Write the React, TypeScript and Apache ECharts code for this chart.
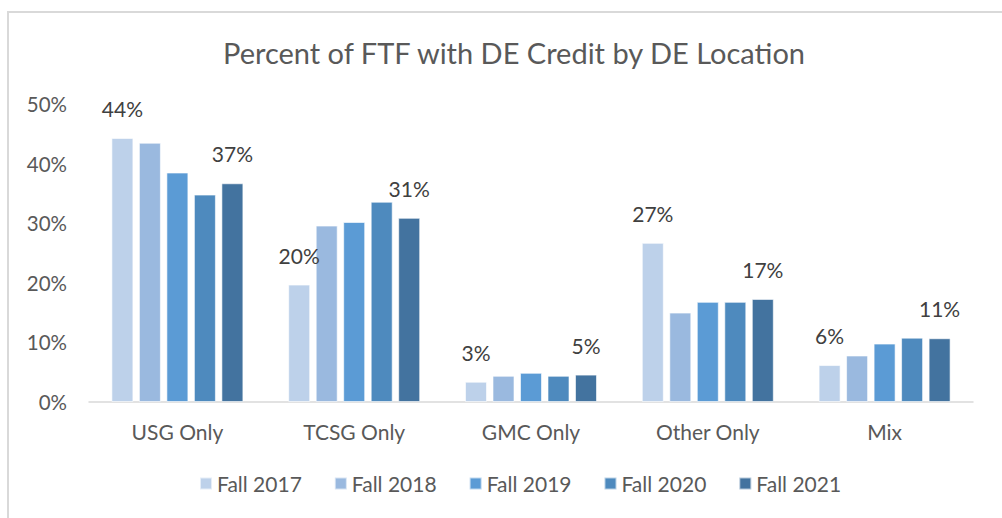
import React, { useEffect, useRef } from "react";
import * as echarts from "echarts";

const categories = ["USG Only", "TCSG Only", "GMC Only", "Other Only", "Mix"];
const seriesNames = ["Fall 2017", "Fall 2018", "Fall 2019", "Fall 2020", "Fall 2021"];
const fall2017 = [44.3, 19.7, 3.4, 26.7, 6.2];
const fall2018 = [43.5, 29.6, 4.4, 15.0, 7.8];
const fall2019 = [38.5, 30.2, 4.9, 16.8, 9.8];
const fall2020 = [34.8, 33.6, 4.4, 16.8, 10.8];
const fall2021 = [36.7, 30.9, 4.6, 17.3, 10.7];
const seriesData = [fall2017, fall2018, fall2019, fall2020, fall2021];
const colors = ["#BDD1EA", "#9AB9DF", "#5B9BD5", "#4E8ABE", "#43739F"];
const labelled = [true, false, false, false, true];

const FONT = "Lato, 'Open Sans', sans-serif";

export default function App() {
  const ref = useRef<HTMLDivElement>(null);
  useEffect(() => {
    if (!ref.current) return;
    const chart = echarts.init(ref.current, null, { renderer: "svg" });
    chart.setOption({
      animation: false,
      backgroundColor: "#ffffff",
      title: {
        text: "Percent of FTF with DE Credit by DE Location",
        left: 218,
        top: 33,
        textStyle: { fontFamily: FONT, fontSize: 29, fontWeight: "normal", color: "#595959" },
      },
      legend: {
        bottom: 19,
        left: 194,
        itemWidth: 12,
        itemHeight: 12,
        itemGap: 32,
        icon: "rect",
        textStyle: { fontFamily: FONT, fontSize: 21, color: "#595959" },
        data: seriesNames,
      },
      graphic: [
        {
          type: "rect",
          shape: { x: 8, y: 12, width: 1100, height: 600 },
          style: { fill: "none", stroke: "#D9D9D9", lineWidth: 2 },
          silent: true,
        },
      ],
      grid: { left: 89, right: 29, top: 104, bottom: 116 },
      xAxis: {
        type: "category",
        data: categories,
        axisLine: { lineStyle: { color: "#D9D9D9", width: 1.5 } },
        axisTick: { show: false },
        axisLabel: { fontFamily: FONT, fontSize: 21, color: "#595959", margin: 19 },
      },
      yAxis: {
        type: "value",
        min: 0,
        max: 50,
        interval: 10,
        splitLine: { show: false },
        axisLine: { show: false },
        axisTick: { show: false },
        axisLabel: { fontFamily: FONT, fontSize: 20.5, color: "#595959", margin: 22, formatter: "{value}%" },
      },
      series: seriesNames.map((name, i) => ({
        name,
        type: "bar",
        data: seriesData[i],
        barWidth: 22,
        barGap: "25%",
        itemStyle: { color: colors[i], borderColor: "rgba(255,255,255,0.6)", borderWidth: 1 },
        label: {
          show: labelled[i],
          position: "top",
          distance: 19,
          fontFamily: FONT,
          fontSize: 21,
          color: "#404040",
          formatter: (p: any) => Math.round(p.value) + "%",
        },
      })),
    });
    return () => chart.dispose();
  }, []);
  return (
    <div
      ref={ref}
      style={{ position: "absolute", left: 0, top: 0, width: 1002, height: 518 }}
    />
  );
}
